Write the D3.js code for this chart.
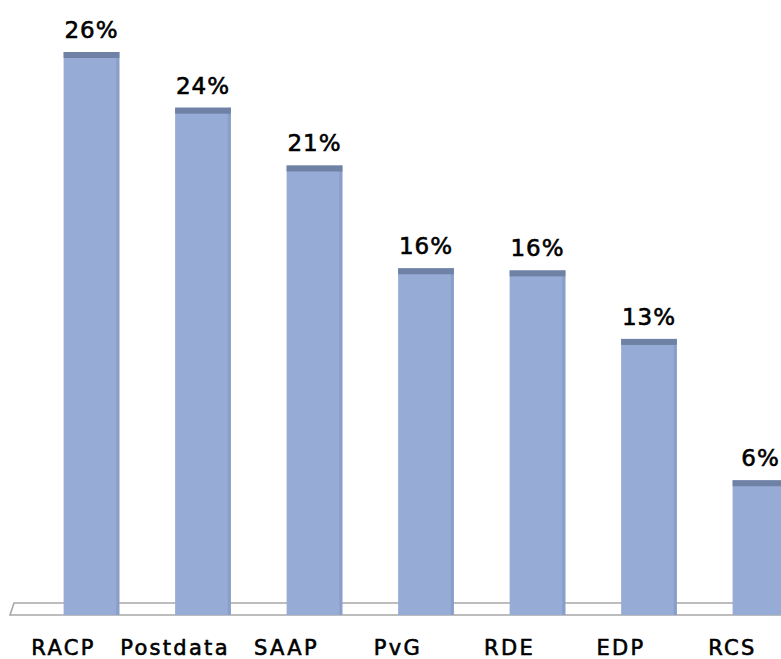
<!DOCTYPE html>
<html>
<head>
<meta charset="utf-8">
<script src="https://cdn.jsdelivr.net/npm/d3@7"></script>
<style>
  body { margin: 0; background: #fff; }
  text { font-family: "DejaVu Sans", Verdana, sans-serif; fill: #000; stroke: #000; stroke-width: 0.6px; }
</style>
</head>
<body>
<svg width="781" height="659"></svg>
<script>
// data
var categories = ["RACP", "Postdata", "SAAP", "PvG", "RDE", "EDP", "RCS"];
var values = [26.2, 23.6, 20.9, 16.1, 16.0, 12.8, 6.2];
var valueLabels = ["26%", "24%", "21%", "16%", "16%", "13%", "6%"];

var width = 781, height = 659;
var floorTop = 603, floorBottom = 615;

var svg = d3.select("svg");

var x = d3.scaleBand()
  .domain(categories)
  .range([35.75, 816.25])
  .paddingInner(0.5)
  .paddingOuter(0.25);

var y = d3.scaleLinear()
  .domain([0, 26.2])
  .range([613, 52]);

// floor plane
svg.append("path")
  .attr("d", "M14," + floorTop + " L" + (width + 5) + "," + floorTop +
             " L" + (width + 5) + "," + floorBottom + " L10," + floorBottom + " Z")
  .style("fill", "#fff")
  .style("stroke", "#a8a8a8")
  .style("stroke-width", 1.6);

var bars = svg.selectAll(".bar")
  .data(categories)
  .enter().append("g")
  .attr("class", "bar");

bars.append("rect")
  .attr("x", d => x(d))
  .attr("y", (d, i) => y(values[i]))
  .attr("width", x.bandwidth())
  .attr("height", (d, i) => floorBottom - y(values[i]))
  .style("fill", "#96abd5");

// darker right edge
bars.append("rect")
  .attr("x", d => x(d) + x.bandwidth() - 3)
  .attr("y", (d, i) => y(values[i]))
  .attr("width", 3)
  .attr("height", (d, i) => floorBottom - y(values[i]))
  .style("fill", "#8097c2")
  .style("opacity", .6);

// top cap
bars.append("rect")
  .attr("x", d => x(d))
  .attr("y", (d, i) => y(values[i]))
  .attr("width", x.bandwidth())
  .attr("height", 6)
  .style("fill", "#6f82a6");

// value labels
bars.append("text")
  .attr("x", d => x(d) + x.bandwidth() / 2)
  .attr("y", (d, i) => y(values[i]) - 14)
  .attr("text-anchor", "middle")
  .style("font-size", "23px")
  .style("letter-spacing", "1px")
  .text((d, i) => valueLabels[i]);

// category labels (shifted left like the perspective of the original)
svg.selectAll(".cat")
  .data(categories)
  .enter().append("text")
  .attr("class", "cat")
  .attr("x", d => x(d) + x.bandwidth() / 2 - 28)
  .attr("y", 655)
  .attr("text-anchor", "middle")
  .style("font-size", "21px")
  .style("letter-spacing", "2.3px")
  .text(d => d);
</script>
</body>
</html>
